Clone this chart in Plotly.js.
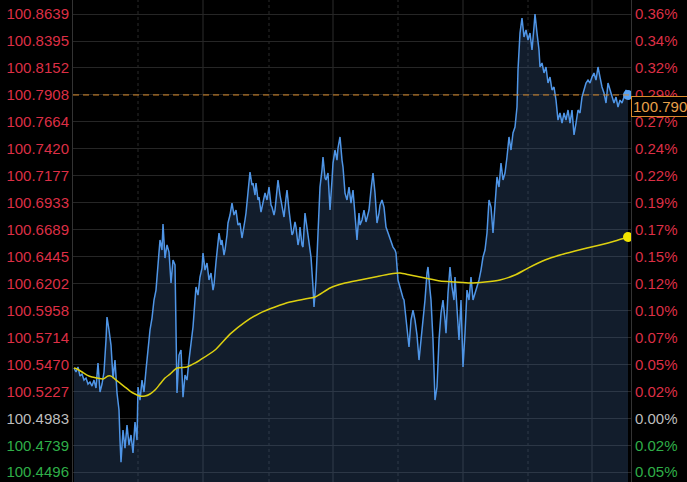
<!DOCTYPE html>
<html>
<head>
<meta charset="utf-8">
<script src="https://cdn.plot.ly/plotly-3.0.1.min.js"></script>
<style>html,body{margin:0;padding:0;background:#000;}#chart{width:687px;height:482px;}</style>
</head>
<body>
<div id="chart"></div>
<script>
// ---- data ----
var prevClose = 100.4983;
var lastPrice = 100.7908;
var lastPriceLabel = '100.790';

var priceTicks = ['100.4496','100.4739','100.4983','100.5227','100.5470','100.5714','100.5958','100.6202','100.6445','100.6689','100.6933','100.7177','100.7420','100.7664','100.7908','100.8152','100.8395','100.8639'];
var pctTicks = ['0.05%','0.02%','0.00%','0.02%','0.05%','0.07%','0.10%','0.12%','0.15%','0.17%','0.19%','0.22%','0.24%','0.27%','0.29%','0.32%','0.34%','0.36%'];

// time index of each trade tick
var tickTime = [
0,2,4,6,8,10,12,14,16,18,
20,22,24,26,28,30,32,33,35,37,
39,41,43,45,46,47,49,51,53,55,
57,59,61,63,64,66,68,70,72,74,
76,78,80,82,84,86,88,89,91,93,
95,97,99,101,103,105,107,109,111,113,
115,117,119,121,122,124,126,128,129,131,
133,135,137,139,140,142,143,145,147,148,
150,151,153,154,156,158,160,162,164,166,
168,169,171,172,174,176,178,179,181,182,
184,185,187,188,190,191,193,195,197,198,
200,201,203,204,206,207,209,210,212,213,
215,216,218,219,221,222,224,225,226,228,
229,231,233,234,236,237,239,240,242,244,
246,248,249,251,252,254,255,256,258,259,
261,263,264,266,268,269,271,273,275,277,
279,281,283,285,286,288,290,292,293,295,
297,299,301,303,305,306,308,310,312,314,
316,317,319,321,322,324,326,327,329,330,
332,334,335,337,339,341,343,345,347,349,
351,353,354,356,357,359,360,361,363,365,
367,369,371,372,374,376,378,380,381,383,
385,387,389,391,393,395,397,399,401,403,
405,407,409,411,413,415,417,419,421,423,
425,427,429,431,433,435,437,439,441,442,
443,444,445,446,448,450,452,454,456,458,
460,461,463,465,466,468,470,472,474,476,
478,480,482,484,486,488,490,492,494,496,
498,500,502,504,506,508,510,512,514,516,
518,520,522,524,526,528,530,532,534,536,
538,540,542,544,546,548,550,552,554];

var tickPrice = [
100.5438,100.5402,100.5447,100.5365,100.5383,100.5329,100.5347,100.5293,100.5311,100.5275,
100.5329,100.5257,100.5483,100.5221,100.5293,100.5402,100.5691,100.5899,100.5782,100.5646,
100.5347,100.5510,100.5212,100.5058,100.4786,100.4587,100.4877,100.4714,100.4922,100.4741,
100.4832,100.4669,100.4949,100.4786,100.5266,100.5148,100.5329,100.5221,100.5420,100.5601,
100.5782,100.5890,100.6053,100.6143,100.6370,100.6596,100.6505,100.6741,100.6433,100.6551,
100.6487,100.6207,100.6415,100.6370,100.5212,100.5555,100.5601,100.5175,100.5374,100.5329,
100.5510,100.5646,100.5809,100.6053,100.6171,100.6098,100.6261,100.6342,100.6478,100.6324,
100.6388,100.6234,100.6297,100.6143,100.6189,100.6397,100.6478,100.6659,100.6551,100.6596,
100.6460,100.6505,100.6641,100.6750,100.6822,100.6930,100.6822,100.6867,100.6731,100.6750,
100.6614,100.6659,100.6777,100.6840,100.7048,100.7211,100.7093,100.7111,100.7003,100.7111,
100.6958,100.6985,100.6849,100.6894,100.7003,100.7021,100.6958,100.7075,100.6912,100.6894,
100.6822,100.6867,100.7048,100.7139,100.7003,100.6958,100.6849,100.6804,100.6976,100.7048,
100.6867,100.6777,100.6641,100.6659,100.6759,100.6713,100.6551,100.6596,100.6713,100.6551,
100.6532,100.6840,100.6704,100.6659,100.6505,100.6442,100.6171,100.5990,100.6234,100.6659,
100.7075,100.7229,100.7347,100.7157,100.7139,100.7202,100.7003,100.6867,100.7139,100.7292,
100.7410,100.7319,100.7428,100.7528,100.7319,100.7256,100.7021,100.6958,100.7075,100.6930,
100.7048,100.6804,100.6596,100.6840,100.6731,100.6777,100.6867,100.6759,100.6804,100.6867,
100.7048,100.7202,100.7021,100.6750,100.6840,100.6912,100.6958,100.6894,100.6713,100.6659,
100.6614,100.6596,100.6532,100.6505,100.6478,100.6234,100.6162,100.6116,100.6071,100.6053,
100.5872,100.5736,100.5628,100.5872,100.5962,100.5872,100.5736,100.5510,100.5691,100.5809,
100.6053,100.6297,100.6352,100.6143,100.6053,100.5691,100.5302,100.5148,100.5266,100.5691,
100.5935,100.6053,100.5872,100.5754,100.6116,100.6352,100.6171,100.6053,100.6261,100.5935,
100.5691,100.6053,100.5447,100.5754,100.6143,100.6053,100.6261,100.6053,100.6116,100.6171,
100.6234,100.6324,100.6442,100.6505,100.6659,100.6958,100.6894,100.6659,100.6958,100.7166,
100.7075,100.7292,100.7139,100.7202,100.7347,100.7528,100.7410,100.7564,100.7618,100.7709,
100.7799,100.8134,100.8315,100.8468,100.8604,100.8432,100.8496,100.8405,100.8468,100.8315,
100.8523,100.8639,100.8468,100.8315,100.8161,100.8197,100.8107,100.8161,100.8016,100.8070,
100.7953,100.7980,100.7862,100.7681,100.7745,100.7654,100.7745,100.7681,100.7772,100.7654,
100.7772,100.7546,100.7654,100.7772,100.7745,100.7889,100.7953,100.8016,100.8043,100.8016,
100.8070,100.8107,100.8043,100.8161,100.8070,100.7980,100.7926,100.7835,100.8016,100.7953,
100.7889,100.7835,100.7889,100.7799,100.7862,100.7835,100.7889,100.7953,100.7908];

// average price line
var avgTime = [0,3,8,13,18,23,29,34,37,41,46,51,56,61,66,71,76,81,86,91,96,103,113,121,126,141,156,171,186,201,216,231,241,256,271,286,301,316,326,336,351,366,381,396,411,426,441,454,471,486,501,513,526,541,554];
var avgPrice = [100.5438,100.5429,100.5402,100.5374,100.5356,100.5347,100.5338,100.5365,100.5365,100.5338,100.5302,100.5266,100.5230,100.5203,100.5184,100.5184,100.5203,100.5239,100.5293,100.5347,100.5383,100.5438,100.5447,100.5483,100.5510,100.5601,100.5745,100.5854,100.5935,100.5990,100.6035,100.6062,100.6080,100.6162,100.6207,100.6234,100.6261,100.6288,100.6297,100.6279,100.6252,100.6225,100.6216,100.6207,100.6216,100.6234,100.6279,100.6342,100.6415,100.6460,100.6496,100.6523,100.6551,100.6587,100.6623];

// session grid times
var majorGrid = [129, 259, 389, 518];
var minorGrid = [64, 195, 324, 454];

// ---- styles ----
var RED = '#dc2f45', GRAY = '#bdbdbd', GREEN = '#2fae48';
var tickVals = priceTicks.map(Number);
function colorFor(v){ return Math.abs(v - prevClose) < 1e-6 ? GRAY : (v > prevClose ? RED : GREEN); }
var leftText = priceTicks.map(function(s, i){ return '<span style="color:' + colorFor(tickVals[i]) + '">' + s + '</span>'; });
var rightText = pctTicks.map(function(s, i){ return '<span style="color:' + colorFor(tickVals[i]) + '">' + s + '</span>'; });

var yRange = [100.4407, 100.8767];
var FONT = 'Liberation Sans, Arial, sans-serif';

var nT = tickTime.length;
var traces = [
  {
    x: tickTime, y: tickPrice, type: 'scatter', mode: 'lines',
    line: {color: '#4f95e6', width: 1.5},
    fill: 'tozeroy', fillcolor: 'rgba(60,95,145,0.30)',
    hoverinfo: 'skip', yaxis: 'y'
  },
  {
    x: [tickTime[nT-1]], y: [tickPrice[nT-1]], type: 'scatter', mode: 'markers',
    marker: {color: '#5aa2f2', size: 10}, hoverinfo: 'skip', yaxis: 'y'
  },
  {
    x: avgTime, y: avgPrice, type: 'scatter', mode: 'lines',
    line: {color: '#ddd010', width: 1.5, shape: 'spline', smoothing: 0.6},
    hoverinfo: 'skip', yaxis: 'y2'
  },
  {
    x: [avgTime[avgTime.length-1]], y: [avgPrice[avgPrice.length-1]], type: 'scatter', mode: 'markers',
    marker: {color: '#f2e400', size: 10}, hoverinfo: 'skip', yaxis: 'y2'
  }
];

var shapes = [];
majorGrid.forEach(function(t){
  shapes.push({type:'line', xref:'x', yref:'paper', x0:t, x1:t, y0:0, y1:1, layer:'below', line:{color:'#2c2c2c', width:1}});
});
minorGrid.forEach(function(t){
  shapes.push({type:'line', xref:'x', yref:'paper', x0:t, x1:t, y0:0, y1:1, layer:'below', line:{color:'#2a2a2a', width:1, dash:'dot'}});
});
shapes.push({type:'line', xref:'paper', yref:'y', x0:0, x1:1, y0:lastPrice, y1:lastPrice, layer:'above', line:{color:'#d98a2b', width:1, dash:'6px,4px'}});

var layout = {
  width: 687, height: 482,
  margin: {l: 73, r: 56, t: 0, b: 0, pad: 0},
  paper_bgcolor: '#000', plot_bgcolor: '#000',
  showlegend: false,
  font: {family: FONT, size: 15, color: RED},
  xaxis: {range: [-1, 557], showticklabels: false, ticks: '', showgrid: false, zeroline: false, showline: false, fixedrange: true},
  yaxis: {
    range: yRange, side: 'left', tickmode: 'array', tickvals: tickVals, ticktext: leftText,
    showgrid: true, gridcolor: '#262626', gridwidth: 1, zeroline: false,
    showline: true, linecolor: '#333333', linewidth: 1, ticks: '',
    tickfont: {family: FONT, size: 15, color: RED}, ticklabelstandoff: 0, fixedrange: true
  },
  yaxis2: {
    range: yRange, overlaying: 'y', side: 'right', tickmode: 'array', tickvals: tickVals, ticktext: rightText,
    showgrid: false, zeroline: false, showline: true, linecolor: '#333333', linewidth: 1, ticks: '',
    tickfont: {family: FONT, size: 15, color: RED}, ticklabelstandoff: 0, fixedrange: true
  },
  shapes: shapes,
  annotations: [{
    xref: 'paper', x: 1, xanchor: 'left', yref: 'y', y: lastPrice, yanchor: 'top', yshift: -1,
    text: lastPriceLabel, showarrow: false,
    font: {family: FONT, size: 15, color: '#e8a04a'},
    bgcolor: '#000', bordercolor: '#d98a2b', borderwidth: 1, borderpad: 1, align: 'left'
  }]
};

Plotly.newPlot('chart', traces, layout, {displayModeBar: false, staticPlot: true});
</script>
</body>
</html>
